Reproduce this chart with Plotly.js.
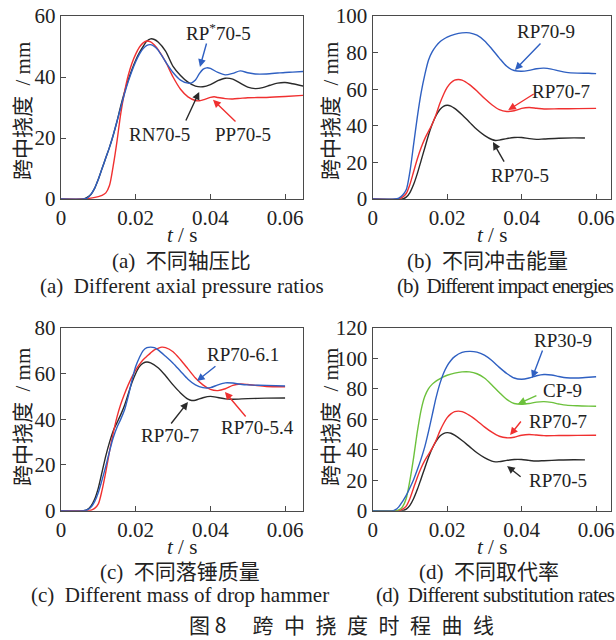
<!DOCTYPE html>
<html>
<head>
<meta charset="utf-8">
<script src="https://cdn.plot.ly/plotly-3.0.1.min.js"></script>
<style>html,body{margin:0;padding:0;background:#fff;}#chart{width:616px;height:640px;}</style>
</head>
<body>
<div id="chart"></div>
<script>
// ---------- Panel (a): different axial pressure ratios ----------
const tA_RN = [0,0.006,0.007,0.008,0.009,0.010,0.011,0.012,0.013,0.014,0.015,0.016,0.017,0.018,0.019,0.020,0.021,0.022,0.023,0.024,0.025,0.026,0.028,0.030,0.032,0.034,0.036,0.038,0.040,0.042,0.044,0.046,0.048,0.050,0.052,0.054,0.056,0.058,0.060,0.062,0.065];
const yA_RN = [0,0,0.5,1.5,3.5,6.5,10,13.5,17,21,25.5,30.5,35,39,42.5,45.5,48,50,51.8,52.5,52.3,51.5,48.5,43.5,40.5,38.3,37,36.8,37.5,38.8,39.6,39.3,38,36.7,36.2,36.5,37.3,38,38.2,37.8,37];
const tA_RPs = [0,0.006,0.007,0.008,0.009,0.010,0.011,0.012,0.013,0.014,0.015,0.016,0.017,0.018,0.019,0.020,0.021,0.022,0.023,0.024,0.025,0.026,0.028,0.030,0.032,0.034,0.035,0.036,0.037,0.038,0.039,0.040,0.042,0.044,0.046,0.048,0.050,0.052,0.055,0.058,0.060,0.062,0.065];
const yA_RPs = [0,0,0.3,1.5,3.5,6.5,10,13.5,17,21,25.5,30,34.5,38.5,42,45,47.5,49.3,50.4,50.6,50,48.8,45,41.5,39,38,38.1,39,41,42.5,43,42.8,41.5,40.7,41.2,42,41.4,41,41,41.3,41.5,41.6,41.8];
const tA_PP = [0,0.006,0.008,0.010,0.011,0.012,0.013,0.014,0.015,0.016,0.017,0.018,0.019,0.020,0.021,0.022,0.023,0.024,0.025,0.026,0.028,0.030,0.032,0.034,0.036,0.037,0.038,0.040,0.041,0.042,0.044,0.046,0.048,0.050,0.055,0.060,0.065];
const yA_PP = [0,0,0.3,0.8,1.2,2,4.5,11,19,28,35,40.5,44.5,47.5,49.8,51.2,51.8,51.5,50.5,49,45,40,36,33.5,32.3,32.2,32.5,33.3,33.5,33.3,32.9,32.8,33,33.2,33.3,33.6,34];

// ---------- Panel (b)/(d) shared: RP70-5, RP70-7; (b) RP70-9 ----------
const t_RP70_5 = [0,0.008,0.009,0.010,0.011,0.012,0.013,0.014,0.015,0.016,0.017,0.018,0.019,0.020,0.021,0.022,0.024,0.026,0.028,0.030,0.032,0.033,0.034,0.036,0.038,0.040,0.042,0.044,0.046,0.050,0.054,0.057];
const y_RP70_5 = [0,0,1,3.5,8,14,21,28,35,41,45.5,48.8,50.6,51.2,50.8,49.5,46,42,38,34.8,32.5,32,32.2,33,33.6,33.6,33,32.6,32.8,33.2,33.4,33.3];
const t_RP70_7 = [0,0.007,0.008,0.009,0.010,0.011,0.012,0.013,0.014,0.015,0.016,0.017,0.018,0.019,0.020,0.021,0.022,0.023,0.024,0.026,0.028,0.030,0.032,0.034,0.036,0.038,0.040,0.042,0.044,0.046,0.050,0.055,0.060];
const y_RP70_7 = [0,0,1,3,8,15,22,28,33,37,41,46,52,57,61,63.5,65,65.3,65,62.5,59,55,51.5,48.8,47.8,48.2,49.5,50,49.6,49.2,49.3,49.4,49.5];
const t_RP70_9 = [0,0.006,0.007,0.008,0.009,0.010,0.011,0.012,0.013,0.014,0.015,0.016,0.017,0.018,0.019,0.020,0.022,0.024,0.026,0.028,0.030,0.032,0.034,0.036,0.038,0.040,0.042,0.044,0.046,0.048,0.050,0.052,0.055,0.058,0.060];
const y_RP70_9 = [0,0,0.5,2,5,15,30,45,58,68,76,80.5,83.5,85.8,87.3,88.5,90,90.8,90.8,89.5,86.5,82,77,72.5,70.2,69.8,70.3,71.2,71.5,71,70,69.2,68.8,68.7,68.5];

// ---------- Panel (c): different drop hammer mass ----------
const tC_61 = [0,0.006,0.007,0.008,0.009,0.010,0.011,0.012,0.013,0.014,0.015,0.016,0.017,0.018,0.019,0.020,0.021,0.022,0.023,0.024,0.025,0.026,0.028,0.030,0.032,0.034,0.036,0.038,0.040,0.042,0.044,0.046,0.048,0.050,0.055,0.060];
const yC_61 = [0,0,0.3,1.5,4,8,13.5,19.5,26,32,36.5,40,44,50,57,63,67,70,71.3,71.5,71.3,70.3,67.5,64.5,61,57.5,55,53.8,53.8,55,55.9,55.8,55.3,55,54.8,54.5];
const tC_54 = [0,0.007,0.008,0.009,0.010,0.011,0.012,0.013,0.014,0.015,0.016,0.017,0.018,0.019,0.020,0.021,0.022,0.023,0.024,0.025,0.026,0.027,0.028,0.030,0.032,0.034,0.036,0.038,0.040,0.042,0.044,0.046,0.048,0.050,0.052,0.055,0.060];
const yC_54 = [0,0,0.2,1,3,9,17,26,34,41,46.5,51,55,58.5,61.5,64,66,67.5,69,70.3,71,71.5,71.3,69.5,66,62,58,55,53,52.5,53.3,54.8,55.4,55.2,54.8,54.3,54.2];
const tC_7 = [0,0.006,0.007,0.008,0.009,0.010,0.011,0.012,0.013,0.014,0.015,0.016,0.017,0.018,0.019,0.020,0.021,0.022,0.023,0.024,0.026,0.028,0.030,0.032,0.034,0.035,0.036,0.038,0.040,0.042,0.044,0.046,0.050,0.055,0.060];
const yC_7 = [0,0,0.5,2,5,10,17,24,30,35,38.5,42,46,51,56,60,63,64.5,65,64.6,62.5,59,55,51.5,48.8,48.2,48.3,49.4,50,49.5,48.9,48.7,49,49.2,49.3];

// ---------- Panel (d): different substitution rates ----------
const tD_RP30 = [0,0.0055,0.006,0.007,0.008,0.009,0.010,0.011,0.012,0.013,0.014,0.015,0.016,0.017,0.018,0.019,0.020,0.021,0.022,0.024,0.026,0.028,0.030,0.032,0.034,0.036,0.038,0.040,0.042,0.044,0.046,0.048,0.050,0.052,0.055,0.058,0.060];
const yD_RP30 = [0,0,0.5,2.5,6,10,15,20.5,27,34,42,52,63,74,83,90,95,98.5,101,103.8,104.5,104,102,98.5,94,90,87,86.2,87,88.5,89.3,89,88,87.2,87,87.5,87.8];
const tD_CP = [0,0.006,0.007,0.008,0.009,0.010,0.011,0.012,0.013,0.014,0.015,0.016,0.017,0.018,0.019,0.020,0.022,0.024,0.026,0.028,0.030,0.032,0.034,0.036,0.038,0.040,0.042,0.044,0.046,0.048,0.050,0.052,0.055,0.058,0.060];
const yD_CP = [0,0,0.5,2.5,8,20,35,52,66,75,80,83,85,86.5,87.8,88.8,90.2,91,91,89.8,87,82.5,77.5,73,70.3,69.8,70.3,71.2,71.5,71,70,69.2,68.8,68.6,68.5];

// ---------- Text ----------
const yTitle = '跨中挠度\u2005 / mm';
const xTitle = '<i>t</i> / s';
const captionsCN = ['(a)  不同轴压比', '(b)  不同冲击能量', '(c)  不同落锤质量', '(d)  不同取代率'];
const captionsEN = ['(a)  Different axial pressure ratios', '(b)  Different impact energies', '(c)  Different mass of drop hammer', '(d)  Different substitution rates'];
const figTitle = '图 8\u3000\u2005跨\u2002中\u2002挠\u2002度\u2002时\u2002程\u2002曲\u2002线';

const BLUE = '#2f60c2', RED = '#f03030', BLACK = '#2a2a2a', GREEN = '#6cc13c';
const SERIF = 'Liberation Serif, Times New Roman, serif';
const MIX = 'Liberation Serif, Noto Sans CJK SC, serif';
const LW = 1.4;

function tr(x, y, color, xa, ya) {
  return {x: x, y: y, xaxis: xa, yaxis: ya, type: 'scatter', mode: 'lines',
    line: {color: color, width: LW, shape: 'spline', smoothing: 0.8}, hoverinfo: 'skip', showlegend: false};
}

const data = [
  tr(tA_RN, yA_RN, BLACK, 'x', 'y'),
  tr(tA_PP, yA_PP, RED, 'x', 'y'),
  tr(tA_RPs, yA_RPs, BLUE, 'x', 'y'),
  tr(t_RP70_5, y_RP70_5, BLACK, 'x2', 'y2'),
  tr(t_RP70_7, y_RP70_7, RED, 'x2', 'y2'),
  tr(t_RP70_9, y_RP70_9, BLUE, 'x2', 'y2'),
  tr(tC_7, yC_7, BLACK, 'x3', 'y3'),
  tr(tC_54, yC_54, RED, 'x3', 'y3'),
  tr(tC_61, yC_61, BLUE, 'x3', 'y3'),
  tr(t_RP70_5, y_RP70_5, BLACK, 'x4', 'y4'),
  tr(t_RP70_7, y_RP70_7, RED, 'x4', 'y4'),
  tr(tD_CP, yD_CP, GREEN, 'x4', 'y4'),
  tr(tD_RP30, yD_RP30, BLUE, 'x4', 'y4')
];

const AXC = '#4a4a4a';
function xax(dom, anchor, rmax) {
  return {domain: dom, anchor: anchor, range: [0, rmax], tickvals: [0, 0.02, 0.04, 0.06], ticktext: ['0', '0.02', '0.04', '0.06'],
    ticks: 'inside', ticklen: 5, tickcolor: AXC, showline: true, linecolor: AXC, linewidth: 1.2, mirror: true,
    showgrid: false, zeroline: false, tickfont: {family: SERIF, size: 21, color: '#222'}};
}
function yax(dom, anchor, rmax) {
  return {domain: dom, anchor: anchor, range: [0, rmax], dtick: 20, ticks: 'inside', ticklen: 5, tickcolor: AXC,
    showline: true, linecolor: AXC, linewidth: 1.2, mirror: true, showgrid: false, zeroline: false,
    tickfont: {family: SERIF, size: 21, color: '#222'}};
}

const xL = [61/616, 303/616], xR = [372.7/616, 611/616];
const yT = [1 - 199/640, 1 - 16/640], yB = [1 - 510.7/640, 1 - 327.7/640];

function lab(text, x, y, xr, yr) {
  return {text: text, x: x, y: y, xref: xr, yref: yr, showarrow: false, xanchor: 'center', yanchor: 'middle',
    font: {family: SERIF, size: 19, color: '#222'}};
}
function arr(x, y, ax, ay, color, xr, yr) {
  return {text: '', x: x, y: y, ax: ax, ay: ay, xref: xr, yref: yr, showarrow: true, arrowhead: 2, arrowsize: 1.1,
    arrowwidth: 1.4, arrowcolor: color, standoff: 0};
}
function cap(text, xpx, ypx, fam, size, anchor) {
  return {text: text, x: xpx/616, y: 1 - ypx/640, xref: 'paper', yref: 'paper', showarrow: false,
    xanchor: anchor || 'center', yanchor: 'middle', font: {family: fam, size: size, color: '#222'}};
}
function ytitle(xpx, ypx) {
  const a = cap(yTitle, xpx, ypx, MIX, 21);
  a.textangle = -90;
  return a;
}
function condensed(text, px) {
  return '<span style="letter-spacing:' + px + 'px">' + text + '</span>';
}

const annotations = [
  // (a)
  lab('RP<sup>*</sup>70-5', 0.0423, 54.8, 'x', 'y'),
  lab('RN70-5', 0.0263, 21.3, 'x', 'y'),
  lab('PP70-5', 0.0488, 21, 'x', 'y'),
  arr(0.0372, 43.3, 7, -25, BLUE, 'x', 'y'),
  arr(0.0370, 35.1, -14, 30, BLACK, 'x', 'y'),
  arr(0.0407, 32.5, 24, 23, RED, 'x', 'y'),
  // (b)
  lab('RP70-9', 0.0466, 91.3, 'x2', 'y2'),
  lab('RP70-7', 0.0506, 59, 'x2', 'y2'),
  lab('RP70-5', 0.0396, 12.6, 'x2', 'y2'),
  arr(0.0382, 70.5, 27, -28, BLUE, 'x2', 'y2'),
  arr(0.0364, 48.6, 27, -17, RED, 'x2', 'y2'),
  arr(0.0323, 31.1, 12, 21, BLACK, 'x2', 'y2'),
  // (c)
  lab('RP70-6.1', 0.0488, 68.5, 'x3', 'y3'),
  lab('RP70-5.4', 0.0525, 36.2, 'x3', 'y3'),
  lab('RP70-7', 0.0292, 32.7, 'x3', 'y3'),
  arr(0.0364, 56.7, 20, -16, BLUE, 'x3', 'y3'),
  arr(0.0439, 51.9, 22, 26, RED, 'x3', 'y3'),
  arr(0.0340, 47.5, -18, 23, BLACK, 'x3', 'y3'),
  // (d)
  lab('RP30-9', 0.0511, 111.3, 'x4', 'y4'),
  lab('CP-9', 0.0511, 78.5, 'x4', 'y4'),
  lab('RP70-7', 0.0498, 58.8, 'x4', 'y4'),
  lab('RP70-5', 0.0498, 19.5, 'x4', 'y4'),
  arr(0.0428, 87, 11, -29, BLUE, 'x4', 'y4'),
  arr(0.0390, 70, 20, -9, GREEN, 'x4', 'y4'),
  arr(0.0369, 49.6, 12, -15, RED, 'x4', 'y4'),
  arr(0.0361, 29.3, 15, 12, BLACK, 'x4', 'y4'),
  // axis titles
  ytitle(23, 111),
  ytitle(331, 111),
  ytitle(23, 417),
  ytitle(331, 417),
  cap(xTitle, 182, 235, SERIF, 21),
  cap(xTitle, 492, 235, SERIF, 21),
  cap(xTitle, 182, 547, SERIF, 21),
  cap(xTitle, 492, 547, SERIF, 21),
  // captions
  cap(captionsCN[0], 181, 261, MIX, 21),
  cap(captionsEN[0], 182, 286, SERIF, 21),
  cap(captionsCN[1], 487, 261, MIX, 21),
  cap(condensed(captionsEN[1], -1.1), 505, 286, SERIF, 21),
  cap(captionsCN[2], 180, 572, MIX, 21),
  cap(captionsEN[2], 180, 595, SERIF, 21),
  cap(captionsCN[3], 489, 572, MIX, 21),
  cap(condensed(captionsEN[3], -0.65), 495, 595, SERIF, 21),
  cap(figTitle, 341, 624, 'Noto Sans CJK SC, sans-serif', 21)
];

const layout = {
  width: 616, height: 640, margin: {l: 0, r: 0, t: 0, b: 0}, paper_bgcolor: '#fff', plot_bgcolor: '#fff',
  showlegend: false,
  xaxis: xax(xL, 'y', 0.0648), yaxis: yax(yT, 'x', 60),
  xaxis2: xax(xR, 'y2', 0.064), yaxis2: yax(yT, 'x2', 100),
  xaxis3: xax(xL, 'y3', 0.0648), yaxis3: yax(yB, 'x3', 80),
  xaxis4: xax(xR, 'y4', 0.064), yaxis4: yax(yB, 'x4', 120),
  annotations: annotations
};

Plotly.newPlot('chart', data, layout, {staticPlot: true, displayModeBar: false});
</script>
</body>
</html>
